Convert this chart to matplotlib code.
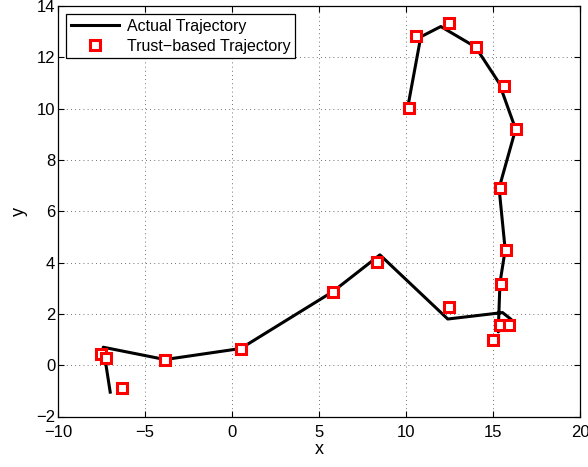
import matplotlib
matplotlib.use("Agg")
import matplotlib.pyplot as plt

# Actual trajectory (line)
actual_x = [-7.0, -7.4, -3.85, 0.5, 5.8, 8.5, 12.4, 15.55, 16.05, 15.3, 15.4, 15.7, 15.35, 16.3, 15.35, 14.0, 12.0, 10.85, 10.1]
actual_y = [-1.05, 0.7, 0.22, 0.65, 2.87, 4.3, 1.8, 2.05, 1.78, 1.3, 3.2, 4.5, 6.9, 9.2, 11.0, 12.4, 13.2, 12.8, 10.05]

# Trust-based trajectory (markers)
trust_x = [-7.55, -7.25, -6.35, -3.85, 0.5, 5.8, 8.35, 12.45, 15.4, 15.9, 15.0, 15.45, 15.75, 15.4, 16.35, 15.65, 14.0, 12.45, 10.55, 10.15]
trust_y = [0.45, 0.28, -0.9, 0.22, 0.65, 2.87, 4.03, 2.25, 1.55, 1.55, 1.0, 3.17, 4.5, 6.9, 9.19, 10.9, 12.4, 13.35, 12.83, 10.03]

x_ticks = [-10, -5, 0, 5, 10, 15, 20]
y_ticks = [-2, 0, 2, 4, 6, 8, 10, 12, 14]

plt.rcParams['font.family'] = ['Liberation Sans', 'DejaVu Sans']
plt.rcParams['font.size'] = 12

fig = plt.figure(figsize=(5.88, 4.67), dpi=100)
ax = fig.add_axes([58/588, 1 - 416.5/467, (580 - 58)/588, (416.5 - 6)/467])

ax.plot(actual_x, actual_y, color='black', linewidth=2.2, label='Actual Trajectory', zorder=3)
ax.plot(trust_x, trust_y, linestyle='none', marker='s', markersize=7,
        markerfacecolor='white', markeredgecolor='red', markeredgewidth=2.2,
        label='Trust\u2212based Trajectory', zorder=4)

ax.set_xlim(-10, 20)
ax.set_ylim(-2, 14)
ax.set_xticks(x_ticks)
ax.set_yticks(y_ticks)
ax.set_xticklabels([str(t).replace('-', '\u2212') for t in x_ticks])
ax.set_yticklabels([str(t).replace('-', '\u2212') for t in y_ticks])
ax.tick_params(direction='in', length=4, width=0.8, top=True, right=True, labelsize=12)
ax.tick_params(axis='x', pad=6)
ax.tick_params(axis='y', pad=2)
ax.grid(True, linestyle=(0, (1, 4)), color='#444444', linewidth=0.6)
for s in ax.spines.values():
    s.set_linewidth(0.9)

ax.set_xlabel('x', fontsize=13, labelpad=1)
ax.set_ylabel('y', fontsize=13, labelpad=6)

leg = ax.legend(loc='upper left', frameon=True, fancybox=False, edgecolor='black',
                borderaxespad=0.5, handlelength=3.0, borderpad=0.3, labelspacing=0.3,
                handletextpad=0.5, fontsize=11.5, framealpha=1)
leg.get_frame().set_linewidth(0.9)

fig.savefig('out.png', dpi=100)
